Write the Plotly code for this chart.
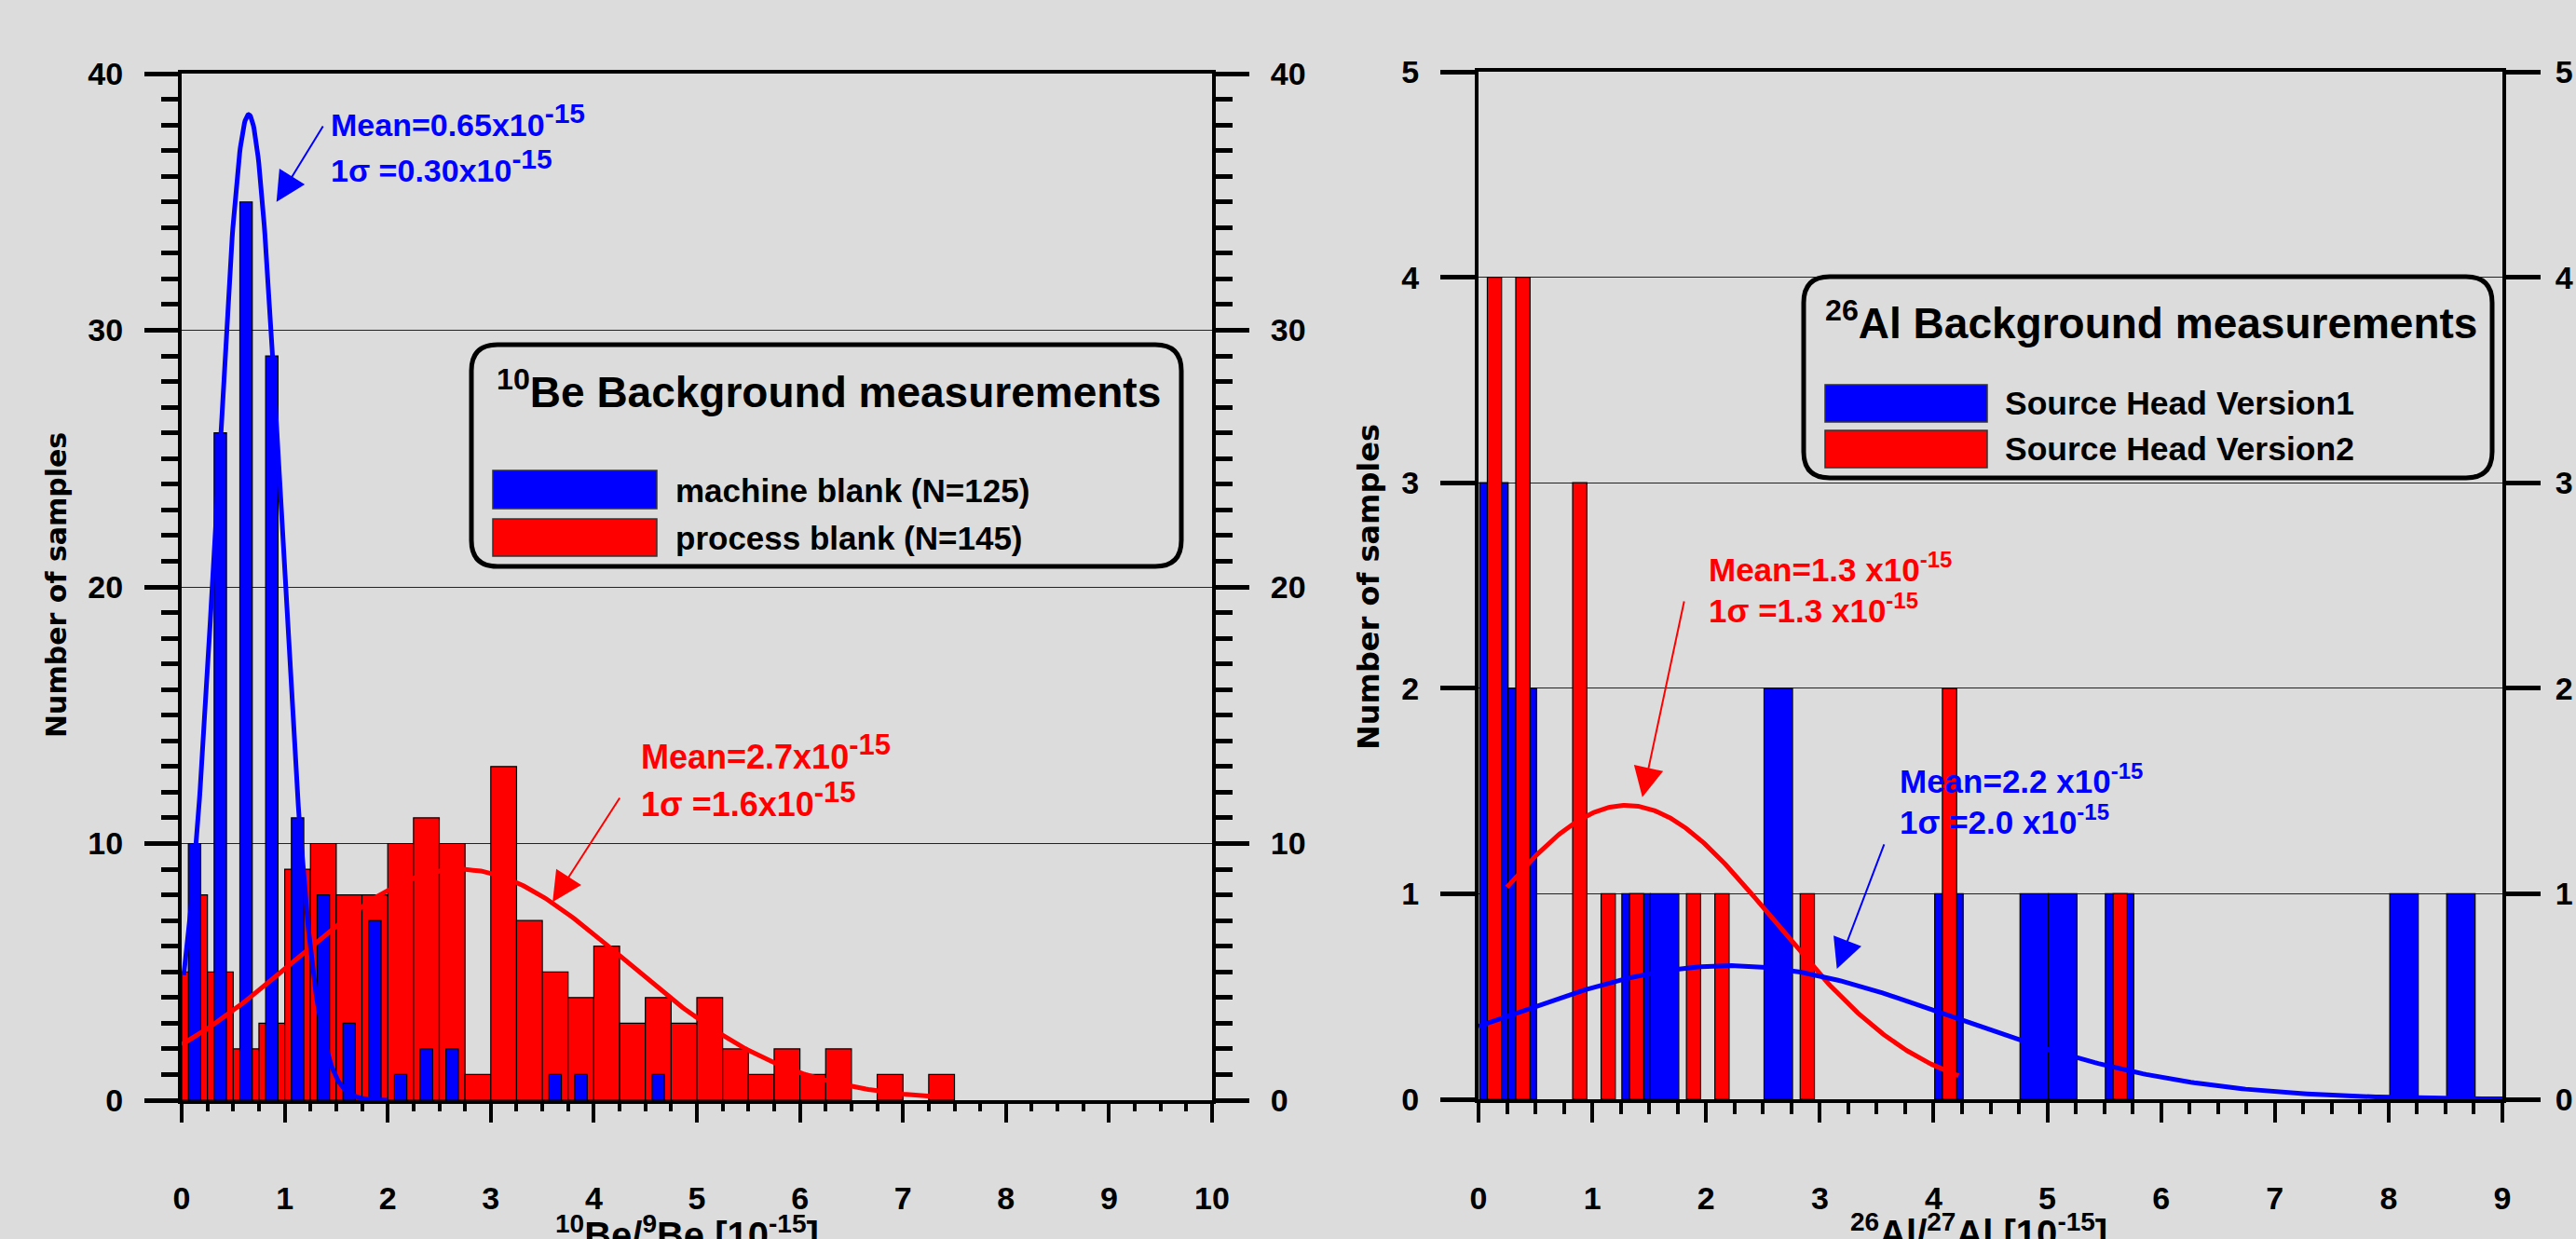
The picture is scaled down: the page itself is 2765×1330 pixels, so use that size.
import numpy as np
import plotly.graph_objects as go

W, H = 2765, 1330

# ---------------- Left panel: 10Be/9Be background ----------------
be_process_x = [0.0625, 0.1875, 0.375, 0.625, 0.875, 1.125, 1.375, 1.625, 1.875, 2.125,
                2.375, 2.625, 2.875, 3.125, 3.375, 3.625, 3.875, 4.125, 4.375, 4.625,
                4.875, 5.125, 5.375, 5.625, 5.875, 6.125, 6.375, 6.875, 7.375]
be_process_w = [0.125, 0.125] + [0.25] * 27
be_process_n = [5, 8, 5, 2, 3, 9, 10, 8, 8, 10, 11, 10, 1, 13, 7, 5, 4, 6, 3, 4,
                3, 4, 2, 1, 2, 1, 2, 1, 1]

be_machine_x = [0.125, 0.375, 0.625, 0.875, 1.125, 1.375, 1.625, 1.875, 2.125, 2.375,
                2.625, 3.625, 3.875, 4.625]
be_machine_n = [10, 26, 35, 29, 11, 8, 3, 7, 1, 2, 2, 1, 1, 1]
be_machine_w = 0.12

# Gaussian fits (mean, sigma, peak height, drawn x-range)
be_fit_machine = dict(mean=0.65, sigma=0.31, peak=38.4, x0=0.02, x1=2.0)
be_fit_process = dict(mean=2.7, sigma=1.6, peak=9.0, x0=0.0, x1=7.3)

be_xticks = [0, 1, 2, 3, 4, 5, 6, 7, 8, 9, 10]
be_yticks = [0, 10, 20, 30, 40]

# ---------------- Right panel: 26Al/27Al background ----------------
al_v1_x = [0.135, 0.385, 1.385, 1.635, 2.635, 4.135, 4.885, 5.135, 5.635, 8.135, 8.635]
al_v1_n = [3, 2, 1, 1, 2, 1, 1, 1, 1, 1, 1]
al_v1_w = 0.25

al_v2_x = [0.14, 0.39, 0.89, 1.14, 1.39, 1.89, 2.14, 2.89, 4.14, 5.64]
al_v2_n = [4, 4, 3, 1, 1, 1, 1, 1, 2, 1]
al_v2_w = 0.125

al_fit_v2 = dict(mean=1.3, sigma=1.3, peak=1.43, x0=0.25, x1=4.22)
al_fit_v1 = dict(mean=2.2, sigma=2.0, peak=0.65, x0=0.0, x1=9.0)

al_xticks = [0, 1, 2, 3, 4, 5, 6, 7, 8, 9]
al_yticks = [0, 1, 2, 3, 4, 5]

BLUE = "#0000ff"
RED = "#ff0000"
BG = "#dcdcdc"
FONT = "Liberation Sans, Arial, sans-serif"


def px_x(p):
    return p / W


def px_y(p):
    return 1 - p / H


def gauss(p, n=300):
    xs = np.linspace(p["x0"], p["x1"], n)
    ys = p["peak"] * np.exp(-0.5 * ((xs - p["mean"]) / p["sigma"]) ** 2)
    return xs, ys


fig = go.Figure()

# Left panel traces
fig.add_trace(go.Bar(x=be_process_x, y=be_process_n, width=be_process_w,
                     marker=dict(color=RED, line=dict(color="black", width=1.2)),
                     xaxis="x", yaxis="y", showlegend=False, hoverinfo="skip"))
fig.add_trace(go.Bar(x=be_machine_x, y=be_machine_n, width=be_machine_w,
                     marker=dict(color=BLUE, line=dict(color="black", width=1.2)),
                     xaxis="x", yaxis="y", showlegend=False, hoverinfo="skip"))
xs, ys = gauss(be_fit_process)
fig.add_trace(go.Scatter(x=xs, y=ys, mode="lines", line=dict(color=RED, width=5),
                         xaxis="x", yaxis="y", showlegend=False, hoverinfo="skip"))
xs, ys = gauss(be_fit_machine)
fig.add_trace(go.Scatter(x=xs, y=ys, mode="lines", line=dict(color=BLUE, width=5),
                         xaxis="x", yaxis="y", showlegend=False, hoverinfo="skip"))

# Right panel traces
fig.add_trace(go.Bar(x=al_v1_x, y=al_v1_n, width=al_v1_w,
                     marker=dict(color=BLUE, line=dict(color="black", width=1.2)),
                     xaxis="x2", yaxis="y2", showlegend=False, hoverinfo="skip"))
fig.add_trace(go.Bar(x=al_v2_x, y=al_v2_n, width=al_v2_w,
                     marker=dict(color=RED, line=dict(color="black", width=1.2)),
                     xaxis="x2", yaxis="y2", showlegend=False, hoverinfo="skip"))
xs, ys = gauss(al_fit_v2)
fig.add_trace(go.Scatter(x=xs, y=ys, mode="lines", line=dict(color=RED, width=5),
                         xaxis="x2", yaxis="y2", showlegend=False, hoverinfo="skip"))
xs, ys = gauss(al_fit_v1)
fig.add_trace(go.Scatter(x=xs, y=ys, mode="lines", line=dict(color=BLUE, width=5),
                         xaxis="x2", yaxis="y2", showlegend=False, hoverinfo="skip"))

# invisible traces so that the right-hand overlay axes exist
fig.add_trace(go.Scatter(x=[None], y=[None], xaxis="x", yaxis="y3", showlegend=False))
fig.add_trace(go.Scatter(x=[None], y=[None], xaxis="x2", yaxis="y4", showlegend=False))

TICKFONT = dict(family=FONT, size=34, color="black", weight="bold")

L_dom_x = [px_x(195), px_x(1301)]
L_dom_y = [px_y(1181), px_y(79)]
R_dom_x = [px_x(1587), px_x(2686)]
R_dom_y = [px_y(1180), px_y(77)]


def xaxis(dom, rng, ticks, major_len, minor_len):
    return dict(domain=dom, range=rng, tickmode="array", tickvals=ticks,
                showline=True, linewidth=4, linecolor="black", mirror=True,
                ticks="outside", ticklen=major_len, tickwidth=4, tickcolor="black",
                minor=dict(dtick=0.25, tick0=0, ticks="outside", ticklen=minor_len,
                           tickwidth=4, tickcolor="black", showgrid=False),
                showgrid=False, zeroline=False, tickfont=TICKFONT, automargin=False,
                ticklabelstandoff=52, fixedrange=True)


def yaxis(dom, rng, ticks, major_len, minor_dtick, minor_len, side, anchor, overlay=None,
          grid=True, standoff=16):
    d = dict(domain=dom, range=rng, tickmode="array", tickvals=ticks, side=side, anchor=anchor,
             showline=True, linewidth=4, linecolor="black", mirror=False,
             ticks="outside", ticklen=major_len, tickwidth=5, tickcolor="black",
             showgrid=grid, gridcolor="#222222", gridwidth=1, automargin=False,
             zeroline=False, tickfont=TICKFONT, ticklabelstandoff=standoff, fixedrange=True)
    if minor_dtick:
        d["minor"] = dict(dtick=minor_dtick, tick0=0, ticks="outside", ticklen=minor_len,
                          tickwidth=5, tickcolor="black", showgrid=False)
    if overlay:
        d["overlaying"] = overlay
    return d


fig.update_layout(
    width=W, height=H,
    margin=dict(l=0, r=0, t=0, b=0, pad=0, autoexpand=False),
    paper_bgcolor=BG, plot_bgcolor=BG,
    barmode="overlay",
    showlegend=False,
    font=dict(family=FONT, color="black"),
    xaxis=xaxis(L_dom_x, [0, 10], be_xticks, 20, 8),
    yaxis=yaxis(L_dom_y, [0, 40], be_yticks, 36, 1, 18, "left", "x"),
    yaxis3=yaxis(L_dom_y, [0, 40], be_yticks, 36, 1, 18, "right", "x", overlay="y", grid=False),
    xaxis2=xaxis(R_dom_x, [0, 9], al_xticks, 21, 12),
    yaxis2=yaxis(R_dom_y, [0, 5], al_yticks, 37, None, 0, "left", "x2"),
    yaxis4=yaxis(R_dom_y, [0, 5], al_yticks, 37, None, 0, "right", "x2", overlay="y2",
                 grid=False, standoff=9),
)
fig.update_layout(xaxis2=dict(anchor="y2"), yaxis2=dict(anchor="x2"))

ann = []
shapes = []


def txt(text, x, y, size, color="black", xref="paper", yref="paper", xanchor="left",
        yanchor="middle", angle=0, family=FONT, yshift=0):
    ann.append(dict(text=text, x=x, y=y, xref=xref, yref=yref, xanchor=xanchor, yanchor=yanchor,
                    showarrow=False, textangle=angle, yshift=yshift,
                    font=dict(family=family, size=size, color=color, weight="bold")))


def arrow(xt, yt, xs_, ys_, xref, yref, color):
    ann.append(dict(text="", x=xt, y=yt, ax=xs_, ay=ys_, xref=xref, yref=yref,
                    axref=xref, ayref=yref, showarrow=True, arrowhead=2, arrowsize=3.2,
                    arrowwidth=2, arrowcolor=color, standoff=0))


def sup(s, size):
    return "<sup><span style='font-size:%dpx'>%s</span></sup>" % (size, s)


# ---- left annotations
txt("Mean=0.65x10" + sup("-15", 30), 1.43, 38.2, 34, BLUE, "x", "y")
txt("1σ =0.30x10" + sup("-15", 30), 1.43, 36.4, 34, BLUE, "x", "y")
arrow(0.92, 35.0, 1.38, 38.0, "x", "y", BLUE)
txt("Mean=2.7x10" + sup("-15", 31), 4.44, 13.55, 36, RED, "x", "y")
txt("1σ =1.6x10" + sup("-15", 31), 4.44, 11.7, 36, RED, "x", "y")
arrow(3.60, 7.72, 4.26, 11.83, "x", "y", RED)

# ---- right annotations
txt("Mean=1.3 x10" + sup("-15", 24), 2.01, 2.59, 35, RED, "x2", "y2")
txt("1σ =1.3 x10" + sup("-15", 24), 2.01, 2.39, 35, RED, "x2", "y2")
arrow(1.44, 1.47, 1.81, 2.43, "x2", "y2", RED)
txt("Mean=2.2 x10" + sup("-15", 24), 3.685, 1.56, 35, BLUE, "x2", "y2")
txt("1σ =2.0 x10" + sup("-15", 24), 3.685, 1.36, 35, BLUE, "x2", "y2")
arrow(3.15, 0.635, 3.57, 1.247, "x2", "y2", BLUE)

# ---- axis titles
TITLEFONT = "DejaVu Sans, Verdana, sans-serif"
txt("Number of samples", px_x(60), px_y(628), 30, angle=-90, xanchor="center", family=TITLEFONT)
txt("Number of samples", px_x(1469), px_y(630), 32, angle=-90, xanchor="center", family=TITLEFONT)
# x-axis titles: partly below the bottom edge of the figure, as in the original
txt("<sup>10</sup>Be/<sup>9</sup>Be [10<sup>-15</sup>]",
    px_x(737), 0, 40, xanchor="center", yanchor="bottom", yshift=-20)
txt("<sup>26</sup>Al/<sup>27</sup>Al [10<sup>-15</sup>]",
    px_x(2124), 0, 40, xanchor="center", yanchor="bottom", yshift=-18)


# ---- custom legends (rounded boxes)
def rounded_box(x0, y0, x1, y1, r):
    pts = [("M", [(x0 + r, y0)]), ("L", [(x1 - r, y0)]), ("Q", [(x1, y0), (x1, y0 + r)]),
           ("L", [(x1, y1 - r)]), ("Q", [(x1, y1), (x1 - r, y1)]), ("L", [(x0 + r, y1)]),
           ("Q", [(x0, y1), (x0, y1 - r)]), ("L", [(x0, y0 + r)]), ("Q", [(x0, y0), (x0 + r, y0)])]
    s = ""
    for cmd, ps in pts:
        s += cmd + " " + " ".join("%.5f,%.5f" % (px_x(a), px_y(b)) for a, b in ps) + " "
    shapes.append(dict(type="path", path=s + "Z", xref="paper", yref="paper",
                       line=dict(color="black", width=5), fillcolor="rgba(0,0,0,0)"))


def swatch(x0, y0, x1, y1, color):
    shapes.append(dict(type="rect", x0=px_x(x0), x1=px_x(x1), y0=px_y(y1), y1=px_y(y0),
                       xref="paper", yref="paper", fillcolor=color,
                       line=dict(color="#333333", width=1.5)))


rounded_box(506, 370, 1268, 608, 28)
txt("<sup>10</sup>Be Background measurements", px_x(531), px_y(418), 46)
swatch(529, 505, 705, 546, BLUE)
swatch(529, 557, 705, 597, RED)
txt("machine blank (N=125)", px_x(723), px_y(526), 35)
txt("process blank (N=145)", px_x(723), px_y(577), 35)

rounded_box(1936, 297, 2675, 513, 28)
txt("<sup>26</sup>Al Background measurements", px_x(1957), px_y(344), 46)
swatch(1959, 413, 2133, 453, BLUE)
swatch(1959, 462, 2133, 502, RED)
txt("Source Head Version1", px_x(2150), px_y(433), 35.5)
txt("Source Head Version2", px_x(2150), px_y(482), 35.5)

fig.update_layout(annotations=ann, shapes=shapes)

fig.write_html("out.html", config={"displayModeBar": False},
               post_script="document.body.style.margin='0px';document.body.style.overflow='hidden';")
